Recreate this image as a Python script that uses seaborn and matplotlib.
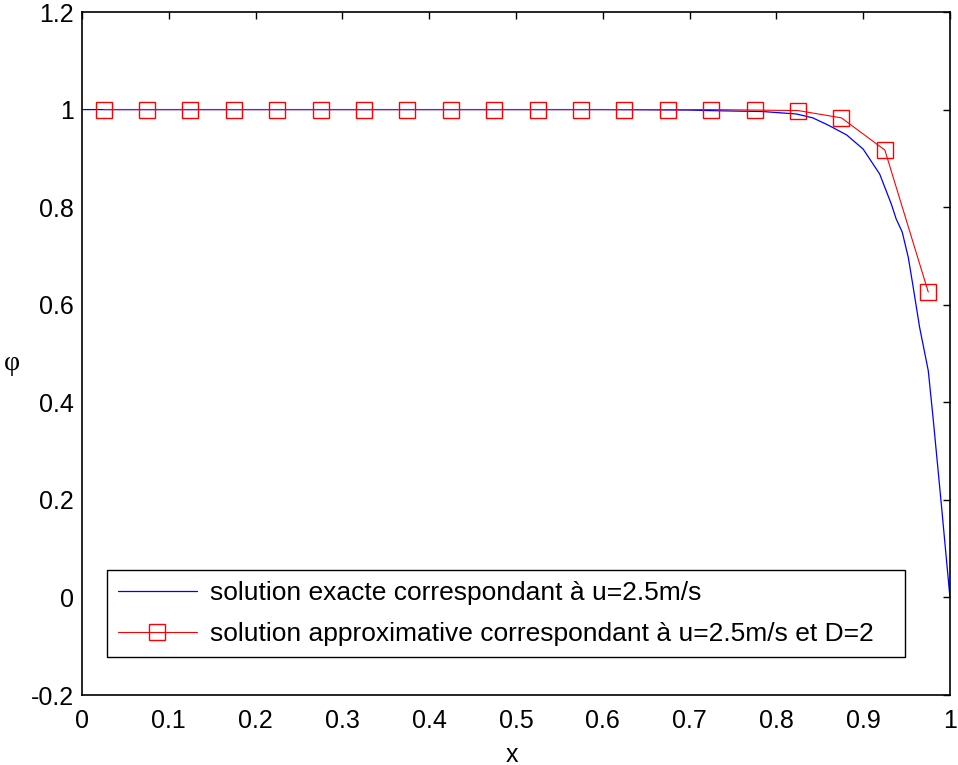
import matplotlib
matplotlib.use("Agg")
import matplotlib.pyplot as plt
import seaborn as sns

# exact solution
x_exact = [0.0, 0.1, 0.2, 0.3, 0.4, 0.5, 0.6, 0.7, 0.72, 0.75, 0.784, 0.823,
           0.842, 0.861, 0.881, 0.900, 0.919, 0.9325, 0.938, 0.945, 0.952,
           0.957, 0.965, 0.975, 0.9805, 0.990, 1.0]
phi_exact = [1.0, 1.0, 1.0, 1.0, 1.0, 1.0, 1.0, 0.999, 0.998, 0.997, 0.996, 0.991,
             0.983, 0.967, 0.948, 0.919, 0.868, 0.806, 0.776, 0.749, 0.697,
             0.643, 0.554, 0.465, 0.369, 0.192, 0.0]

# approximate solution (red squares)
x_approx = [0.025, 0.075, 0.125, 0.175, 0.225, 0.275, 0.325, 0.375, 0.425, 0.475,
            0.525, 0.575, 0.625, 0.675, 0.725, 0.775, 0.825, 0.875, 0.925, 0.975]
phi_approx = [1.0, 1.0, 1.0, 1.0, 1.0, 1.0, 1.0, 1.0, 1.0, 1.0,
              1.0, 1.0, 1.0, 1.0, 1.0, 0.999, 0.998, 0.983, 0.917, 0.626]

label_exact = "solution exacte correspondant à u=2.5m/s"
label_approx = "solution approximative correspondant à u=2.5m/s et D=2"

x_ticks = [0, 0.1, 0.2, 0.3, 0.4, 0.5, 0.6, 0.7, 0.8, 0.9, 1.0]
x_tick_labels = ["0", "0.1", "0.2", "0.3", "0.4", "0.5", "0.6", "0.7", "0.8", "0.9", "1"]
y_ticks = [-0.2, 0, 0.2, 0.4, 0.6, 0.8, 1.0, 1.2]
y_tick_labels = ["-0.2", "0", "0.2", "0.4", "0.6", "0.8", "1", "1.2"]

sns.set_style("white")
plt.rcParams['font.family'] = ['Liberation Sans', 'DejaVu Sans']
plt.rcParams['text.color'] = 'black'
plt.rcParams['axes.labelcolor'] = 'black'

fig = plt.figure(figsize=(9.58, 7.65), dpi=100)
ax = fig.add_axes([0.0856, 0.0915, 0.906, 0.8928])

sns.lineplot(x=x_exact, y=phi_exact, ax=ax, color="blue", linewidth=0.9,
             sort=False, estimator=None, label=label_exact)
sns.lineplot(x=x_approx, y=phi_approx, ax=ax, color="red", linewidth=0.8,
             marker="s", markersize=12, markerfacecolor="none",
             markeredgecolor="red", markeredgewidth=1.0,
             sort=False, estimator=None, label=label_approx)

ax.set_xlim(0, 1)
ax.set_ylim(-0.2, 1.2)
ax.set_xticks(x_ticks)
ax.set_xticklabels(x_tick_labels)
ax.set_yticks(y_ticks)
ax.set_yticklabels(y_tick_labels)
ax.tick_params(direction="in", length=5, width=1, labelsize=18,
               top=True, right=True, colors="black")
ax.tick_params(axis="x", pad=10)
ax.tick_params(axis="y", pad=6)
for s in ax.spines.values():
    s.set_color("black")
    s.set_linewidth(1.2)

ax.set_xlabel("x", fontsize=18)
ax.xaxis.set_label_coords(0.495, -0.07)
ax.set_ylabel("φ", fontsize=20, rotation=0, va="center", ha="center",
              family=['Liberation Serif', 'DejaVu Serif'])
ax.yaxis.set_label_coords(-0.081, 0.485)

leg = ax.legend(loc="lower left", bbox_to_anchor=(0.029, 0.056, 0.919, 0.124),
                mode="expand", fontsize=19, frameon=True, fancybox=False,
                edgecolor="black", framealpha=1, handlelength=3.0,
                handletextpad=0.5, borderpad=0.4, labelspacing=0.65,
                borderaxespad=0)
leg.get_frame().set_linewidth(1.0)
for t in leg.get_texts():
    t.set_color("black")

fig.savefig("out.png", dpi=100)
